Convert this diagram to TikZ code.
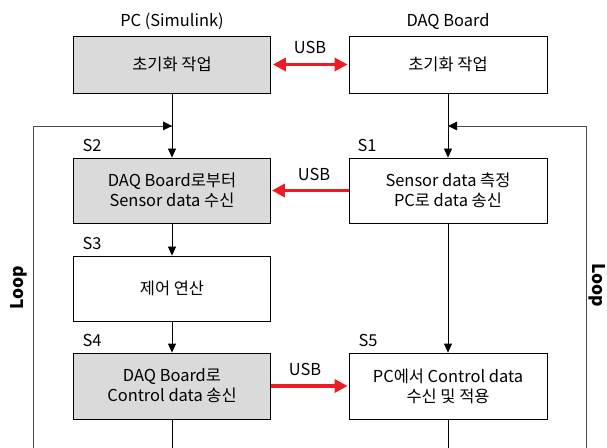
\documentclass[tikz,border=0pt]{standalone}
\usepackage{fontspec}
\setmainfont{Noto Sans CJK KR}
\usetikzlibrary{arrows.meta}
\definecolor{usbred}{RGB}{237,28,36}
\definecolor{boxgray}{RGB}{218,218,218}

\begin{document}
\begin{tikzpicture}[x=1bp,y=-1bp,
  blk/.style={draw,line width=0.8bp,inner sep=0pt,align=center,font=\fontsize{16.5}{20}\selectfont},
  grayblk/.style={blk,fill=boxgray},
  flow/.style={line width=0.8bp,-{Triangle[length=9bp,width=8bp]}},
  loopln/.style={line width=0.8bp,black!70},
  usbln/.style={line width=3.5bp,usbred},
  usbtip/.style={-{Triangle[length=13bp,width=13bp]}},
  usbboth/.style={{Triangle[length=13bp,width=13bp]}-{Triangle[length=13bp,width=13bp]}},
  steplbl/.style={font=\fontsize{16.5}{18}\selectfont,inner sep=0pt},
  looplbl/.style={font=\fontsize{17.5}{18}\selectfont\bfseries,inner sep=0pt}]

\useasboundingbox (0,0) rectangle (607,448);

% column heads
\node[steplbl] (pchead) at (172,21) {PC (Simulink)};
\node[steplbl] (daqhead) at (448,21) {DAQ Board};

% PC side
\node[grayblk,minimum width=197bp,minimum height=57bp] (pcinit) at (172,64.5) {초기화 작업};
\node[grayblk,minimum width=197bp,minimum height=65bp] (s2) at (172,190.5) {DAQ Board로부터\\Sensor data 수신};
\node[blk,minimum width=197bp,minimum height=65bp] (s3) at (172,288.5) {제어 연산};
\node[grayblk,minimum width=197bp,minimum height=66bp] (s4) at (172,386) {DAQ Board로\\Control data 송신};

% DAQ side
\node[blk,minimum width=198bp,minimum height=57bp] (daqinit) at (448,64.5) {초기화 작업};
\node[blk,minimum width=198bp,minimum height=65bp] (s1) at (448,190.5) {Sensor data 측정\\PC로 data 송신};
\node[blk,minimum width=198bp,minimum height=66bp] (s5) at (448,386) {PC에서 Control data\\수신 및 적용};

% step tags
\node[steplbl] (tag2) at (92,145) {S2};
\node[steplbl] (tag3) at (92,243) {S3};
\node[steplbl] (tag4) at (92,340) {S4};
\node[steplbl] (tag1) at (367,145) {S1};
\node[steplbl] (tag5) at (368,340) {S5};

% loop corners and open ends
\coordinate (ljoin) at (172,126);
\coordinate (rjoin) at (448,126);
\coordinate (lcorner) at (33,126);
\coordinate (rcorner) at (586,126);
\coordinate (lfoot) at (33,448);
\coordinate (rfoot) at (586,448);
\coordinate (pcend) at (172,448);
\coordinate (daqend) at (448,448);

% black flow
\draw[flow] (pcinit) -- (s2);
\draw[flow] (s2) -- (s3);
\draw[flow] (s3) -- (s4);
\draw[line width=0.8bp] (s4.south) -- (pcend);
\draw[flow] (daqinit) -- (s1);
\draw[flow] (s1) -- (s5);
\draw[line width=0.8bp] (s5.south) -- (daqend);

% loops back up
\draw[loopln] (lfoot) -- (lcorner) -- (ljoin);
\draw[loopln] (rfoot) -- (rcorner) -- (rjoin);
\fill (ljoin) -- ++(-9,-4.5) -- ++(0,9) -- cycle;
\fill (rjoin) -- ++(9,-4.5) -- ++(0,9) -- cycle;
\node[looplbl,rotate=90] (lloop) at (19,288) {Loop};
\node[looplbl,rotate=-90] (rloop) at (597,285) {Loop};

% USB links
\draw[usbln,usbboth] ([xshift=2bp]pcinit.east) -- ([xshift=-1bp]daqinit.west);
\draw[usbln,usbtip] (s1.west) -- ([xshift=1bp]s2.east);
\draw[usbln,usbtip] (s4.east) -- ([xshift=-1bp]s5.west);
\node[steplbl] (usb0) at (310,47) {USB};
\node[steplbl] (usb1) at (314,174) {USB};
\node[steplbl] (usb2) at (305,369) {USB};

\end{tikzpicture}
\end{document}
